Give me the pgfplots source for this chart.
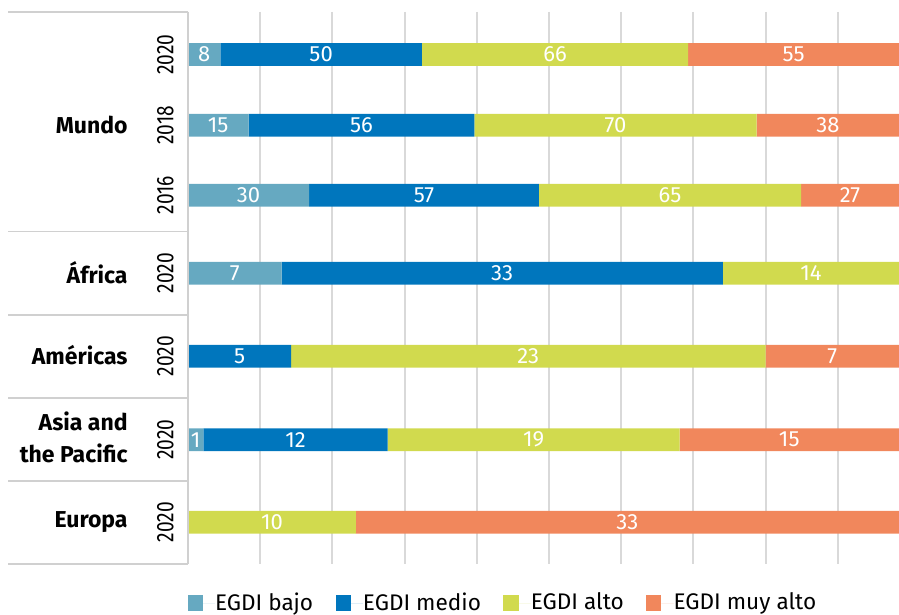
\documentclass[border=0pt]{standalone}
\usepackage{pgfplots}
\pgfplotsset{compat=1.18}
\usepackage{fontspec}
\setmainfont{Fira Sans}
\newfontfamily\yearfont{Fira Sans}[FakeStretch=0.8]
\definecolor{cbajo}{HTML}{66A9C1}
\definecolor{cmedio}{HTML}{0076BD}
\definecolor{calto}{HTML}{D1DA4E}
\definecolor{cmuy}{HTML}{F1875C}
\definecolor{gridc}{HTML}{D9D9D9}
\definecolor{sepc}{HTML}{D0D0D0}
\pgfplotsset{base/.style={
  width=355.5pt, height=276pt, scale only axis,
  xmin=0, xmax=98.48, ymin=12, ymax=564, y dir=reverse,
}}
\newcommand{\lblfont}{\fontsize{11}{13}\selectfont}
\begin{document}
\begin{tikzpicture}[font=\lblfont]
\begin{axis}[base,
  xbar stacked, bar width=22.7,
  axis line style={draw=none},
  xtick={0,10,...,90}, xticklabels={}, ytick=\empty,
  major tick length=0pt,
  xmajorgrids, grid style={gridc, line width=1pt},
  legend columns=4,
  legend image code/.code={\fill[#1] (0pt,-3.8pt) rectangle (7.6pt,3.8pt); \path (7.6pt,0pt) -- (13.7pt,0pt);},
  legend style={draw=none, fill=none, font=\fontsize{11.3}{13}\selectfont, inner sep=0pt,
    nodes={inner sep=0pt},
    at={(-0.001,-0.0707)}, anchor=west,
    /tikz/every even column/.append style={column sep=11.2pt}},
]
\addplot[fill=cbajo, draw=none] coordinates {(4.469,54.5) (8.380,125.3) (16.760,195.3) (12.963,273.3) (0,356.3) (2.128,439.7) (0,522.3)};
\addlegendentry{EGDI bajo}
\addplot[fill=cmedio, draw=none] coordinates {(27.933,54.5) (31.285,125.3) (31.844,195.3) (61.111,273.3) (14.286,356.3) (25.532,439.7) (0,522.3)};
\addlegendentry{EGDI medio}
\addplot[fill=calto, draw=none] coordinates {(36.872,54.5) (39.106,125.3) (36.313,195.3) (25.926,273.3) (65.714,356.3) (40.426,439.7) (23.256,522.3)};
\addlegendentry{EGDI alto}
\addplot[fill=cmuy, draw=none] coordinates {(30.726,54.5) (21.229,125.3) (15.084,195.3) (0,273.3) (20.000,356.3) (31.915,439.7) (76.744,522.3)};
\addlegendentry{EGDI muy alto}
\coordinate (bbA) at (axis cs:-26.04,0);
\coordinate (bbB) at (axis cs:98.48,615);
\end{axis}
\begin{axis}[base, hide axis, clip=false,
  nodes near coords, point meta=explicit symbolic,
  every node near coord/.append style={anchor=center, text=white, font=\lblfont, inner sep=0pt},
]
\addplot[draw=none, mark=none] coordinates {
 (2.23,54.5) [8] (18.44,54.5) [50] (50.84,54.5) [66] (83.88,54.5) [55]
 (4.19,125.3) [15] (24.02,125.3) [56] (59.22,125.3) [70] (88.63,125.3) [38]
 (8.38,195.3) [30] (32.68,195.3) [57] (66.76,195.3) [65] (91.70,195.3) [27]
 (6.48,273.3) [7] (43.52,273.3) [33] (86.28,273.3) [14]
 (7.14,356.3) [5] (47.14,356.3) [23] (89.24,356.3) [7]
 (1.06,439.7) [1] (14.89,439.7) [12] (47.87,439.7) [19] (83.28,439.7) [15]
 (11.63,522.3) [10] (60.87,522.3) [33]
};
\draw[sepc, line width=0.8pt] (axis cs:-24.93,12) -- (axis cs:0,12);
\draw[sepc, line width=0.8pt] (axis cs:-24.93,231.7) -- (axis cs:0,231.7);
\draw[sepc, line width=0.8pt] (axis cs:-24.93,315) -- (axis cs:0,315);
\draw[sepc, line width=0.8pt] (axis cs:-24.93,398.3) -- (axis cs:0,398.3);
\draw[sepc, line width=0.8pt] (axis cs:-24.93,481) -- (axis cs:0,481);
\draw[sepc, line width=0.8pt] (axis cs:-24.93,564) -- (axis cs:0,564);
\draw[sepc, line width=0.8pt] (axis cs:0,12) -- (axis cs:0,564);
\node[anchor=east, inner sep=0pt, font=\fontsize{11.5}{13}\selectfont\bfseries] at (axis cs:-8.31,125.3) {Mundo};
\node[anchor=east, inner sep=0pt, font=\fontsize{11.5}{13}\selectfont\bfseries] at (axis cs:-8.31,272.5) {África};
\node[anchor=east, inner sep=0pt, font=\fontsize{11.5}{13}\selectfont\bfseries] at (axis cs:-8.31,355.5) {Américas};
\node[anchor=east, inner sep=0pt, font=\fontsize{11.5}{15.8}\selectfont\bfseries, align=right] at (axis cs:-8.31,437.5) {Asia and\\the Pacific};
\node[anchor=east, inner sep=0pt, font=\fontsize{11.5}{13}\selectfont\bfseries] at (axis cs:-8.31,522.3) {Europa};
\node[rotate=90, inner sep=0pt, font=\yearfont\fontsize{12}{14}\selectfont] at (axis cs:-3.15,54.5) {2020};
\node[rotate=90, inner sep=0pt, font=\yearfont\fontsize{12}{14}\selectfont] at (axis cs:-3.15,125.3) {2018};
\node[rotate=90, inner sep=0pt, font=\yearfont\fontsize{12}{14}\selectfont] at (axis cs:-3.15,195.3) {2016};
\node[rotate=90, inner sep=0pt, font=\yearfont\fontsize{12}{14}\selectfont] at (axis cs:-3.15,273.3) {2020};
\node[rotate=90, inner sep=0pt, font=\yearfont\fontsize{12}{14}\selectfont] at (axis cs:-3.15,356.3) {2020};
\node[rotate=90, inner sep=0pt, font=\yearfont\fontsize{12}{14}\selectfont] at (axis cs:-3.15,439.7) {2020};
\node[rotate=90, inner sep=0pt, font=\yearfont\fontsize{12}{14}\selectfont] at (axis cs:-3.15,522.3) {2020};
\end{axis}
\pgfresetboundingbox
\path[use as bounding box] (bbA) rectangle (bbB);
\end{tikzpicture}
\end{document}
